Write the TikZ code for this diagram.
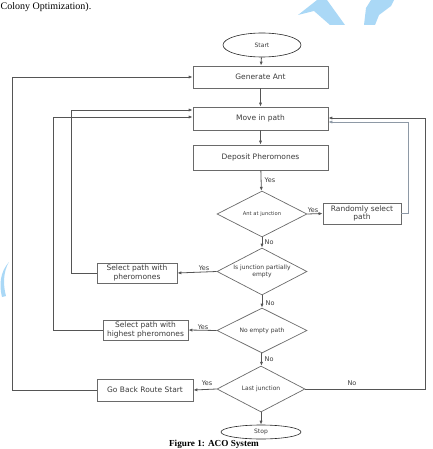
\documentclass[tikz,border=0pt]{standalone}
\usepackage{fontspec}
\newfontfamily\dv{DejaVu Sans}
\newfontfamily\tms{Liberation Serif}
\usetikzlibrary{shapes.geometric,arrows.meta}
\definecolor{ln}{HTML}{555555}
\definecolor{bd}{HTML}{6A6A6A}
\definecolor{tx}{HTML}{3A3A3A}
\definecolor{wm}{HTML}{AAD8F6}
\definecolor{ln2}{HTML}{8E99A6}
\begin{document}
\begin{tikzpicture}[x=1pt,y=-1pt,
  box/.style={draw=bd,line width=0.7pt,rectangle,inner sep=0pt,text=tx,align=center,
     font=\dv\fontsize{7.5}{8.5}\selectfont},
  dec/.style={draw=bd,line width=0.7pt,diamond,aspect=1.95,inner sep=0pt,text=tx,align=center,
     font=\dv\fontsize{6}{6.5}\selectfont},
  term/.style={draw=black!85,line width=0.6pt,ellipse,inner sep=0pt,text=tx,
     font=\dv\fontsize{6}{7}\selectfont},
  lab/.style={inner sep=0.5pt,text=tx,font=\dv\fontsize{6.5}{7}\selectfont},
  arr/.style={draw=ln,line width=0.8pt,-{Latex[length=4pt,width=3.2pt]}},
  arrl/.style={draw=ln2,line width=0.7pt,-{Latex[length=4pt,width=3.2pt]}}
]
\useasboundingbox (0,0) rectangle (432,449);

% watermark shapes
\fill[wm] (298,15) -- (317,0) -- (327,0) -- (345,25) -- (330,25) -- (314,11) -- cycle;
\fill[wm] (364,25) -- (366,8) -- (371,0) -- (394,0) -- (391,6) -- (379,15) -- (375,25) -- cycle;
\fill[wm] (9,262) .. controls (3,272) and (3,285) .. (6,296) -- (2,297) .. controls (-1,285) and (0,272) .. (9,262) -- cycle;

% surrounding text
\node[anchor=base west,inner sep=0pt,font=\tms\fontsize{10}{12}\selectfont] (top) at (0.5,10) {Colony Optimization).};
\node[anchor=base,inner sep=0pt,font=\tms\bfseries\fontsize{9.2}{11}\selectfont] (cap) at (214,446.5) {Figure 1: ACO System};

% nodes
\node[term,minimum width=78pt,minimum height=24pt] (start) at (262,45) {Start};
\node[box,minimum width=135pt,minimum height=22pt] (gen) at (260.5,77) {Generate Ant};
\node[box,minimum width=135pt,minimum height=23pt] (move) at (260.5,118.5) {Move in path};
\node[box,minimum width=135pt,minimum height=25pt] (dep) at (260.5,157.5) {Deposit Pheromones};
\node[dec,minimum width=90pt,minimum height=46pt,font=\dv\fontsize{5.2}{6}\selectfont] (d1) at (262,214) {Ant at junction};
\node[box,minimum width=78pt,minimum height=21pt] (rand) at (362,213.5) {Randomly select\\path};
\node[dec,minimum width=90pt,minimum height=47pt] (d2) at (262,271.5) {Is junction partially\\empty};
\node[box,minimum width=80pt,minimum height=20pt] (selph) at (137,273) {Select path with\\pheromones};
\node[dec,minimum width=90pt,minimum height=45pt] (d3) at (262,330.5) {No empty path};
\node[box,minimum width=85pt,minimum height=20pt] (selhi) at (145.5,330) {Select path with\\highest pheromones};
\node[dec,minimum width=88pt,minimum height=46pt] (d4) at (261,389) {Last junction};
\node[box,minimum width=96pt,minimum height=22pt] (back) at (145,390) {Go Back Route Start};
\node[term,minimum width=80pt,minimum height=14pt] (stop) at (261,432) {Stop};

% vertical flow
\draw[arr] (start) -- (gen);
\draw[arr] (gen) -- (move);
\draw[arr] (move) -- (dep);
\draw[arr] (dep) -- (d1);
\draw[arr] (d1) -- (d2);
\draw[arr] (d2) -- (d3);
\draw[arr] (d3) -- (d4);
\draw[arr] (d4) -- (stop);

% yes branches
\draw[arr] (d1.east) -- (rand.west);
\draw[arr] (d2.west) -- (selph.east);
\draw[arr] (d3.west) -- (selhi.east);
\draw[arr] (d4.west) -- (back.east);

% loops back
\draw[arr] (back.west) -- ++(-84,0) |- (gen.west);
\draw[arr] (selph.west) -- ++(-25,0) |- ([yshift=8.5pt]move.west);
\draw[arr] (selhi.west) -- ++(-49,0) |- ([yshift=1.5pt]move.west);
\draw[arrl] (rand.east) -- ++(7,0) |- ([yshift=-3.5pt]move.east);
\draw[arr] (d4.east) -- ++(120,0) |- ([yshift=0.5pt]move.east);

% labels
\node[lab,anchor=west] (l1) at (264,180) {Yes};
\node[lab,anchor=south] (l2) at (313,213.5) {Yes};
\node[lab,anchor=west] (l3) at (264,242) {No};
\node[lab,anchor=south] (l4) at (204,271.5) {Yes};
\node[lab,anchor=west] (l5) at (265,303) {No};
\node[lab,anchor=south] (l6) at (203,330) {Yes};
\node[lab,anchor=west] (l7) at (264,359) {No};
\node[lab,anchor=south] (l8) at (207,386) {Yes};
\node[lab,anchor=south] (l9) at (352,386) {No};
\end{tikzpicture}
\end{document}
